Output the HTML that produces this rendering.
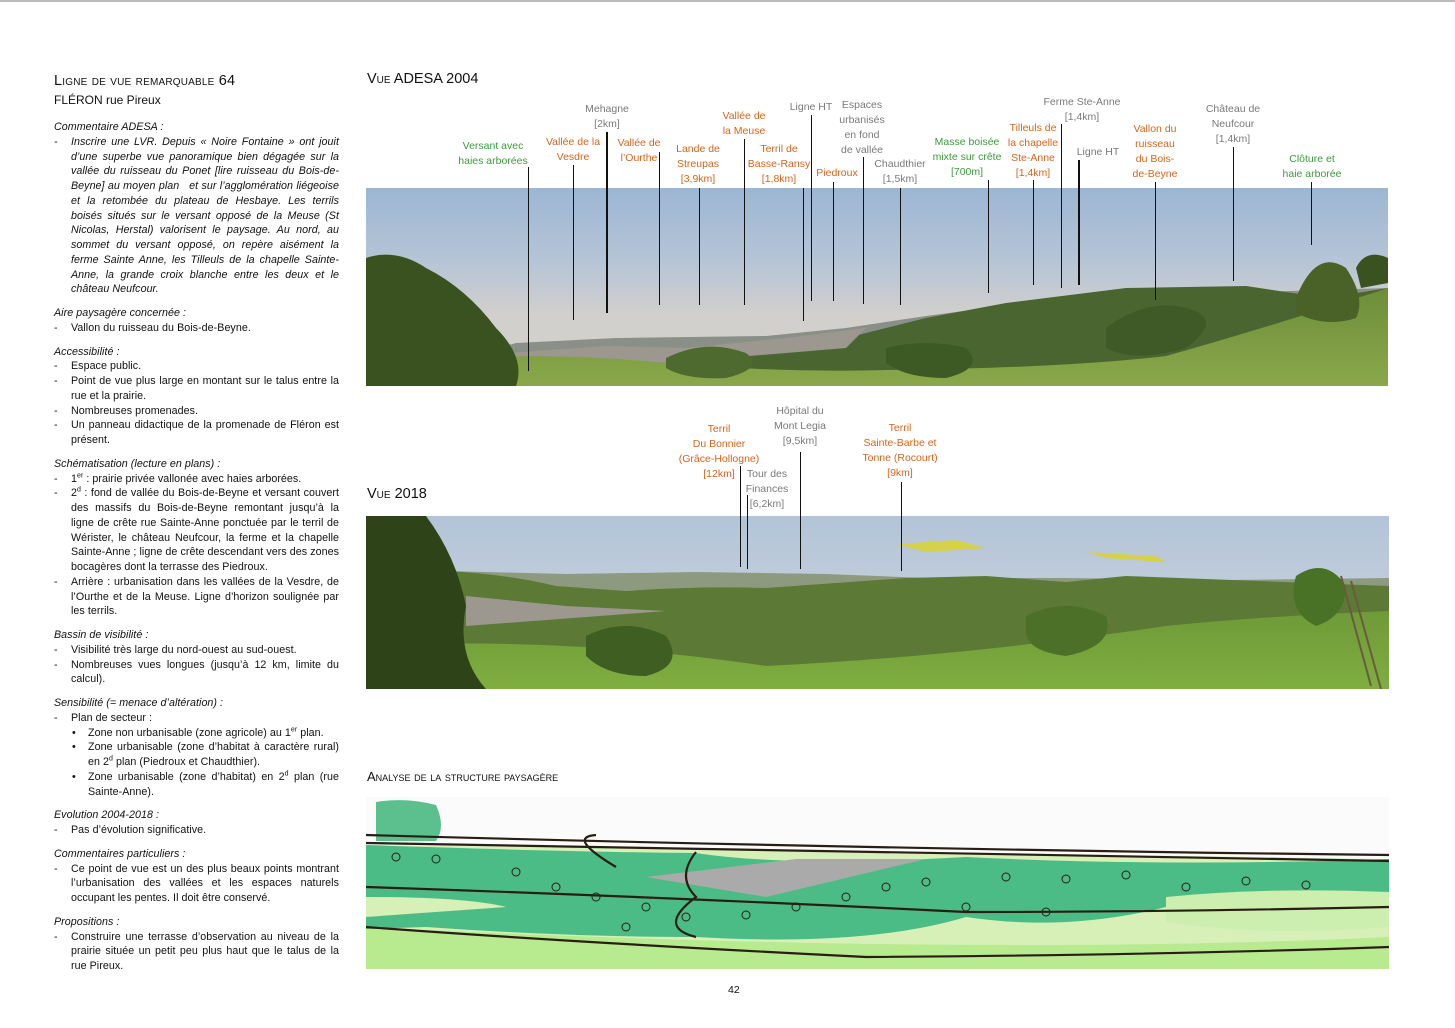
<!DOCTYPE html>
<html><head><meta charset="utf-8">
<style>
*{margin:0;padding:0;box-sizing:border-box}
body{width:1455px;height:1028px;background:#fff;position:relative;overflow:hidden;font-family:"Liberation Sans",sans-serif;color:#111}
.topline{position:absolute;left:0;top:0;width:1455px;height:2px;background:#bbb}
.left{position:absolute;left:54px;top:120px;width:285px;font-size:10.7px;line-height:14.75px;text-align:justify;letter-spacing:0.05px}
.left h4{font-weight:normal;font-style:italic;margin-top:9px}
.left h4:first-child{margin-top:0}
.li{padding-left:17px;position:relative}
.li:before{content:"-";position:absolute;left:0}
.sub{padding-left:34px;position:relative}
.sub:before{content:"•";position:absolute;left:18px}
.it{font-style:italic}
.t{position:absolute;white-space:nowrap}
.lbl{position:absolute;font-size:10.5px;line-height:15px;text-align:center;white-space:nowrap;transform:translateX(-50%)}
.o{color:#d2661e}.g{color:#7a7a7a}.gr{color:#3e9a3e}
.vl{position:absolute;width:1px;background:#111}
sup{font-size:7px;line-height:0}
</style></head><body>
<div class="topline"></div>
<div class="t" style="left:54px;top:73px;font-size:14.5px;font-variant:small-caps;letter-spacing:0.2px">Ligne de vue remarquable 64</div>
<div class="t" style="left:54px;top:93px;font-size:12px">FLÉRON rue Pireux</div>
<div class="left">
<h4>Commentaire ADESA :</h4>
<div class="li it">Inscrire une LVR. Depuis « Noire Fontaine » ont jouit d’une superbe vue panoramique bien dégagée sur la vallée du ruisseau du Ponet [lire ruisseau du Bois-de-Beyne] au moyen plan &nbsp; et sur l’agglomération liégeoise et la retombée du plateau de Hesbaye. Les terrils boisés situés sur le versant opposé de la Meuse (St Nicolas, Herstal) valorisent le paysage. Au nord, au sommet du versant opposé, on repère aisément la ferme Sainte Anne, les Tilleuls de la chapelle Sainte-Anne, la grande croix blanche entre les deux et le château Neufcour.</div>
<h4>Aire paysagère concernée :</h4>
<div class="li">Vallon du ruisseau du Bois-de-Beyne.</div>
<h4>Accessibilité :</h4>
<div class="li">Espace public.</div>
<div class="li">Point de vue plus large en montant sur le talus entre la rue et la prairie.</div>
<div class="li">Nombreuses promenades.</div>
<div class="li">Un panneau didactique de la promenade de Fléron est présent.</div>
<h4>Schématisation (lecture en plans) :</h4>
<div class="li">1<sup>er</sup> : prairie privée vallonée avec haies arborées.</div>
<div class="li">2<sup>d</sup> : fond de vallée du Bois-de-Beyne et versant couvert des massifs du Bois-de-Beyne remontant jusqu’à la ligne de crête rue Sainte-Anne ponctuée par le terril de Wérister, le château Neufcour, la ferme et la chapelle Sainte-Anne ; ligne de crête descendant vers des zones bocagères dont la terrasse des Piedroux.</div>
<div class="li">Arrière : urbanisation dans les vallées de la Vesdre, de l’Ourthe et de la Meuse. Ligne d’horizon soulignée par les terrils.</div>
<h4>Bassin de visibilité :</h4>
<div class="li">Visibilité très large du nord-ouest au sud-ouest.</div>
<div class="li">Nombreuses vues longues (jusqu’à 12 km, limite du calcul).</div>
<h4>Sensibilité (= menace d’altération) :</h4>
<div class="li">Plan de secteur :</div>
<div class="sub">Zone non urbanisable (zone agricole) au 1<sup>er</sup> plan.</div>
<div class="sub">Zone urbanisable (zone d’habitat à caractère rural) en 2<sup>d</sup> plan (Piedroux et Chaudthier).</div>
<div class="sub">Zone urbanisable (zone d’habitat) en 2<sup>d</sup> plan (rue Sainte-Anne).</div>
<h4>Evolution 2004-2018 :</h4>
<div class="li">Pas d’évolution significative.</div>
<h4>Commentaires particuliers :</h4>
<div class="li">Ce point de vue est un des plus beaux points montrant l’urbanisation des vallées et les espaces naturels occupant les pentes. Il doit être conservé.</div>
<h4>Propositions :</h4>
<div class="li">Construire une terrasse d’observation au niveau de la prairie située un petit peu plus haut que le talus de la rue Pireux.</div>
</div>

<div class="t" style="left:367px;top:71px;font-size:14.5px;font-variant:small-caps">Vue ADESA 2004</div>
<div class="t" style="left:367px;top:486px;font-size:14.5px;font-variant:small-caps">Vue 2018</div>
<div class="t" style="left:367px;top:769px;font-size:13px;font-variant:small-caps">Analyse de la structure paysagère</div>
<div class="t" style="left:728px;top:984px;font-size:10.5px">42</div>

<!-- Photo 1 -->
<svg style="position:absolute;left:366px;top:188px" width="1022" height="198" viewBox="0 0 1022 198">
<defs>
<linearGradient id="sk1" x1="0" y1="0" x2="0" y2="1"><stop offset="0" stop-color="#9cb6d4"/><stop offset="0.4" stop-color="#b8c6d6"/><stop offset="0.65" stop-color="#d2d0cc"/></linearGradient>
<linearGradient id="gr1" x1="0" y1="0" x2="0" y2="1"><stop offset="0" stop-color="#6d8d3a"/><stop offset="1" stop-color="#8aa84a"/></linearGradient>
</defs>
<rect width="1022" height="198" fill="url(#sk1)"/>
<path d="M150 155 L250 150 L400 148 L480 140 L560 128 L620 120 L700 110 L1022 100 L1022 198 L0 198Z" fill="#8a9088"/>
<path d="M150 165 L300 160 L400 165 L480 150 L560 130 L640 115 L760 100 L880 98 L960 110 L1022 100 L1022 198 L0 198Z" fill="#4a6530"/>
<path d="M100 168 L240 158 L320 160 L420 150 L500 140 L480 160 L300 175Z" fill="#9c9890"/>
<path d="M0 178 Q150 160 300 175 Q420 185 520 182 Q700 180 800 168 Q900 140 1022 100 L1022 198 L0 198Z" fill="url(#gr1)"/>
<path d="M0 70 Q30 60 60 80 Q100 100 130 140 Q160 170 150 198 L0 198Z" fill="#3a5220"/>
<path d="M740 140 Q780 110 820 120 Q860 130 820 160 Q770 175 740 160Z" fill="#3f5a26"/>
<path d="M1025 95 Q1040 60 1080 80 Q1100 110 1090 130 Q1060 140 1030 125Z" fill="#4a6228"/>
<path d="M930 110 Q950 60 980 80 Q1000 110 990 130 Q960 140 930 125Z" fill="#4a6228"/>
<path d="M990 80 Q1000 60 1022 70 L1022 95 L995 100Z" fill="#3a5220"/>
<path d="M300 170 Q340 150 380 165 Q400 180 360 190 Q320 192 300 180Z" fill="#4e6a2e"/>
<path d="M520 160 Q560 150 600 160 Q620 180 580 190 Q540 190 520 175Z" fill="#3e5a24"/>
</svg>

<!-- Photo 2 -->
<svg style="position:absolute;left:366px;top:516px" width="1023" height="173" viewBox="0 0 1023 173">
<defs>
<linearGradient id="sk2" x1="0" y1="0" x2="0" y2="1"><stop offset="0" stop-color="#b3c4d8"/><stop offset="1" stop-color="#d2d8de"/></linearGradient>
<linearGradient id="gr2" x1="0" y1="0" x2="0" y2="1"><stop offset="0" stop-color="#6e9a38"/><stop offset="1" stop-color="#7fae40"/></linearGradient>
</defs>
<rect width="1023" height="173" fill="url(#sk2)"/>
<path d="M80 55 L200 58 L330 56 L460 58 L560 62 L700 62 L860 64 L1023 62 L1023 173 L0 173Z" fill="#8e9a80"/>
<path d="M80 55 Q140 58 190 70 L260 75 Q330 70 400 72 L540 62 L620 60 L700 66 L760 60 L1023 70 L1023 173 L0 173Z" fill="#5c7a36"/>
<path d="M100 80 L200 90 L300 95 L100 110Z" fill="#9c9890"/>
<path d="M0 130 Q200 120 400 150 Q600 140 800 110 Q900 100 1023 95 L1023 173 L0 173Z" fill="url(#gr2)"/>
<path d="M530 28 L590 24 L620 32 L560 36Z" fill="#d9d23a" opacity="0.9"/>
<path d="M720 36 L790 40 L800 46 L740 42Z" fill="#d9d23a" opacity="0.9"/>
<path d="M0 0 L60 0 Q90 40 100 90 Q90 140 120 173 L0 173Z" fill="#2e4418"/>
<path d="M220 120 Q260 100 300 120 Q320 150 280 160 Q240 160 220 140Z" fill="#3f5e22"/>
<path d="M660 100 Q700 80 740 100 Q750 130 700 140 Q660 135 660 115Z" fill="#4d7028"/>
<path d="M930 60 Q960 40 980 70 Q980 100 950 110 Q920 95 930 60Z" fill="#4a7226"/>
<line x1="975" y1="60" x2="1005" y2="170" stroke="#6b5a40" stroke-width="2"/>
<line x1="985" y1="65" x2="1015" y2="173" stroke="#6b5a40" stroke-width="2"/>
</svg>

<!-- Drawing -->
<svg style="position:absolute;left:366px;top:797px" width="1023" height="172" viewBox="0 0 1023 172">
<rect width="1023" height="172" fill="#fbfbfb"/>
<path d="M0 128 L1023 128 L1023 172 L0 172Z" fill="#b8ea90"/>
<path d="M0 48 Q500 54 1023 62 L1023 140 Q600 160 0 130Z" fill="#d6f0b8"/>
<path d="M0 48 Q200 55 330 56 Q420 70 600 60 Q800 70 1023 62 L1023 110 Q900 120 800 110 Q700 135 600 120 Q500 150 330 140 Q200 140 60 130 L0 132Z" fill="#4cbc86"/>
<path d="M0 100 Q100 100 140 110 L0 120Z" fill="#d6f0b8"/>
<path d="M280 80 L430 62 L560 62 L400 100Z" fill="#aaaaaa"/>
<path d="M800 100 Q900 90 1023 95 L1023 130 Q900 140 800 125Z" fill="#ccefb0"/>
<path d="M10 5 Q40 0 70 8 Q80 30 70 44 L10 44Z" fill="#5cc08e"/>
<g fill="none" stroke="#2a1e14" stroke-width="2.2">
<path d="M0 38 Q500 52 1023 58"/>
<path d="M0 46 Q500 54 1023 64"/>
<path d="M0 90 Q300 100 600 115 Q800 115 1023 110"/>
<path d="M0 130 Q200 145 500 160 Q800 158 1023 150"/>
<path d="M330 55 Q310 80 330 100 Q290 130 330 140"/>
<path d="M230 38 Q200 40 250 70"/>
</g>
<g fill="none" stroke="#2a1e14" stroke-width="1">
<circle cx="30" cy="60" r="4"/><circle cx="70" cy="62" r="4"/><circle cx="150" cy="75" r="4"/><circle cx="190" cy="90" r="4"/><circle cx="230" cy="100" r="4"/><circle cx="280" cy="110" r="4"/><circle cx="320" cy="120" r="4"/><circle cx="380" cy="118" r="4"/><circle cx="430" cy="110" r="4"/><circle cx="480" cy="100" r="4"/><circle cx="520" cy="90" r="4"/><circle cx="560" cy="85" r="4"/><circle cx="640" cy="80" r="4"/><circle cx="700" cy="82" r="4"/><circle cx="760" cy="78" r="4"/><circle cx="820" cy="90" r="4"/><circle cx="880" cy="84" r="4"/><circle cx="940" cy="88" r="4"/><circle cx="260" cy="130" r="4"/><circle cx="600" cy="110" r="4"/><circle cx="680" cy="115" r="4"/>
</g>
</svg>

<!-- Labels photo 1 -->
<div class="lbl gr" style="left:493px;top:139px">Versant avec<br>haies arborées</div>
<div class="lbl o" style="left:573px;top:135px">Vallée de la<br>Vesdre</div>
<div class="lbl g" style="left:607px;top:102px">Mehagne<br>[2km]</div>
<div class="lbl o" style="left:639px;top:136px">Vallée de<br>l’Ourthe</div>
<div class="lbl o" style="left:698px;top:142px">Lande de<br>Streupas<br>[3,9km]</div>
<div class="lbl o" style="left:744px;top:109px">Vallée de<br>la Meuse</div>
<div class="lbl o" style="left:779px;top:142px">Terril de<br>Basse-Ransy<br>[1,8km]</div>
<div class="lbl g" style="left:811px;top:100px">Ligne HT</div>
<div class="lbl o" style="left:837px;top:166px">Piedroux</div>
<div class="lbl g" style="left:862px;top:98px">Espaces<br>urbanisés<br>en fond<br>de vallée</div>
<div class="lbl g" style="left:900px;top:157px">Chaudthier<br>[1,5km]</div>
<div class="lbl gr" style="left:967px;top:135px">Masse boisée<br>mixte sur crête<br>[700m]</div>
<div class="lbl o" style="left:1033px;top:121px">Tilleuls de<br>la chapelle<br>Ste-Anne<br>[1,4km]</div>
<div class="lbl g" style="left:1082px;top:95px">Ferme Ste-Anne<br>[1,4km]</div>
<div class="lbl g" style="left:1098px;top:145px">Ligne HT</div>
<div class="lbl o" style="left:1155px;top:122px">Vallon du<br>ruisseau<br>du Bois-<br>de-Beyne</div>
<div class="lbl g" style="left:1233px;top:102px">Château de<br>Neufcour<br>[1,4km]</div>
<div class="lbl gr" style="left:1312px;top:152px">Clôture et<br>haie arborée</div>

<div class="vl" style="left:528px;top:167px;height:204px"></div>
<div class="vl" style="left:573px;top:165px;height:155px"></div>
<div class="vl" style="left:606px;top:132px;height:181px;width:2px"></div>
<div class="vl" style="left:659px;top:152px;height:153px"></div>
<div class="vl" style="left:699px;top:188px;height:117px"></div>
<div class="vl" style="left:744px;top:139px;height:166px"></div>
<div class="vl" style="left:803px;top:188px;height:133px"></div>
<div class="vl" style="left:811px;top:115px;height:186px"></div>
<div class="vl" style="left:833px;top:182px;height:119px"></div>
<div class="vl" style="left:863px;top:157px;height:147px"></div>
<div class="vl" style="left:900px;top:188px;height:117px"></div>
<div class="vl" style="left:988px;top:180px;height:113px"></div>
<div class="vl" style="left:1033px;top:180px;height:105px"></div>
<div class="vl" style="left:1061px;top:124px;height:164px"></div>
<div class="vl" style="left:1078px;top:160px;height:125px;width:2px"></div>
<div class="vl" style="left:1155px;top:182px;height:118px"></div>
<div class="vl" style="left:1233px;top:147px;height:134px"></div>
<div class="vl" style="left:1311px;top:182px;height:63px"></div>

<!-- Labels photo 2 -->
<div class="lbl o" style="left:719px;top:422px">Terril<br>Du Bonnier<br>(Grâce-Hollogne)<br>[12km]</div>
<div class="lbl g" style="left:767px;top:467px">Tour des<br>Finances<br>[6,2km]</div>
<div class="lbl g" style="left:800px;top:404px">Hôpital du<br>Mont Legia<br>[9,5km]</div>
<div class="lbl o" style="left:900px;top:421px">Terril<br>Sainte-Barbe et<br>Tonne (Rocourt)<br>[9km]</div>
<div class="vl" style="left:740px;top:466px;height:101px"></div>
<div class="vl" style="left:747px;top:495px;height:74px"></div>
<div class="vl" style="left:800px;top:452px;height:117px"></div>
<div class="vl" style="left:901px;top:482px;height:89px"></div>
</body></html>
